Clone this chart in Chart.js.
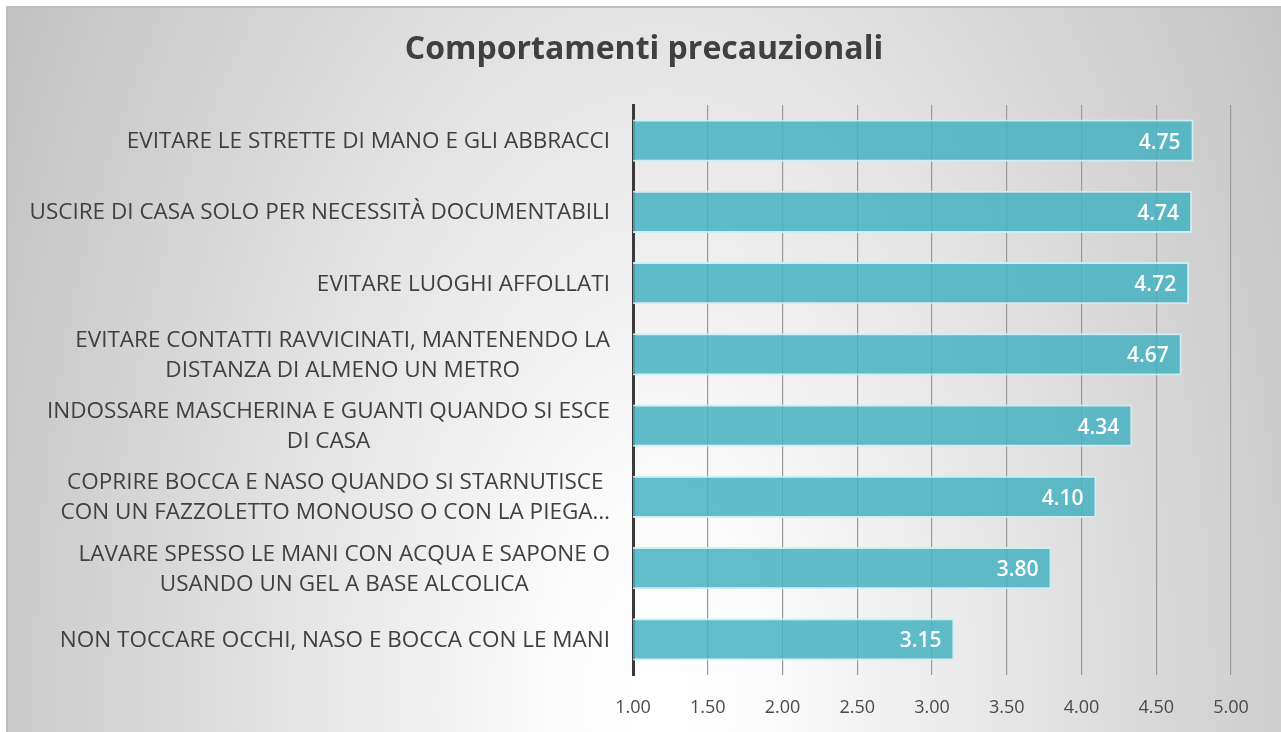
<!DOCTYPE html>
<html>
<head>
<meta charset="utf-8">
<script src="https://cdn.jsdelivr.net/npm/chart.js@4.4.1/dist/chart.umd.min.js"></script>
<style>
html,body{margin:0;padding:0;background:#fff;overflow:hidden;}
#wrap{position:absolute;left:0;top:0;width:1281px;height:732px;}
</style>
</head>
<body>
<div id="wrap"><canvas id="c"></canvas></div>
<script>
const chartTitle = 'Comportamenti precauzionali';
const categories = [
  ['EVITARE LE STRETTE DI MANO E GLI ABBRACCI'],
  ['USCIRE DI CASA SOLO PER NECESSITÀ DOCUMENTABILI'],
  ['EVITARE LUOGHI AFFOLLATI'],
  ['EVITARE CONTATTI RAVVICINATI, MANTENENDO LA', 'DISTANZA DI ALMENO UN METRO'],
  ['INDOSSARE MASCHERINA E GUANTI QUANDO SI ESCE', 'DI CASA'],
  ['COPRIRE BOCCA E NASO QUANDO SI STARNUTISCE', 'CON UN FAZZOLETTO MONOUSO O CON LA PIEGA…'],
  ['LAVARE SPESSO LE MANI CON ACQUA E SAPONE O', 'USANDO UN GEL A BASE ALCOLICA'],
  ['NON TOCCARE OCCHI, NASO E BOCCA CON LE MANI']
];
const values = [4.75, 4.74, 4.72, 4.67, 4.34, 4.10, 3.80, 3.15];
const axisMin = 1.0;
const axisMax = 5.0;
const axisStep = 0.5;

const FONT = "'Open Sans', 'DejaVu Sans', sans-serif";

const backgroundPlugin = {
  id: 'bg',
  beforeDraw(chart) {
    const ctx = chart.ctx;
    const W = chart.width, H = chart.height;
    ctx.save();
    ctx.fillStyle = '#ffffff';
    ctx.fillRect(0, 0, W, H);
    ctx.beginPath();
    ctx.rect(6, 6, W, H);
    ctx.clip();
    const cx = 660, cy = 700, rx = 740, ry = 1350;
    ctx.translate(cx, cy);
    ctx.scale(1, ry / rx);
    const g = ctx.createRadialGradient(0, 0, 0, 0, 0, rx);
    g.addColorStop(0, '#ffffff');
    g.addColorStop(0.15, '#fbfbfb');
    g.addColorStop(1, '#c3c3c3');
    ctx.fillStyle = g;
    ctx.fillRect(-cx - 10, -cy * rx / ry - 10, W + 40, (H + 40) * rx / ry + 40);
    ctx.restore();
    ctx.save();
    ctx.strokeStyle = '#bdbdbd';
    ctx.lineWidth = 2;
    ctx.beginPath();
    ctx.moveTo(7, H + 2);
    ctx.lineTo(7, 7);
    ctx.lineTo(W + 2, 7);
    ctx.stroke();
    ctx.restore();
  }
};

const labelsPlugin = {
  id: 'labelsDraw',
  afterDatasetsDraw(chart) {
    const ctx = chart.ctx;
    const yScale = chart.scales.y;
    ctx.save();
    ctx.font = '22.5px ' + FONT;
    ctx.fillStyle = '#404040';
    ctx.textBaseline = 'middle';
    ctx.textAlign = 'center';
    const rightX = yScale.right - 23;
    const lh = 30;
    categories.forEach((lines, i) => {
      const yc = yScale.getPixelForValue(i);
      const w = Math.max(...lines.map(l => ctx.measureText(l).width));
      const xc = rightX - w / 2;
      const y0 = yc - (lines.length - 1) * lh / 2;
      lines.forEach((l, j) => ctx.fillText(l, xc, y0 + j * lh + 1));
    });
    const meta = chart.getDatasetMeta(0);
    ctx.font = '600 21px ' + FONT;
    ctx.fillStyle = '#ffffff';
    ctx.textAlign = 'right';
    meta.data.forEach((bar, i) => {
      ctx.fillText(values[i].toFixed(2), bar.x - 13, bar.y + 2);
    });
    ctx.restore();
  }
};

const ctx = document.getElementById('c').getContext('2d');
new Chart(ctx, {
  type: 'bar',
  data: {
    labels: categories,
    datasets: [{
      data: values,
      backgroundColor: 'rgba(70,178,194,0.85)',
      borderColor: 'rgba(205,238,243,0.95)',
      borderWidth: 2,
      borderSkipped: 'start',
      barPercentage: 0.59,
      categoryPercentage: 1.0
    }]
  },
  options: {
    indexAxis: 'y',
    responsive: true,
    maintainAspectRatio: false,
    animation: false,
    layout: { padding: { left: 57, right: 50, top: 0, bottom: 0 } },
    plugins: {
      legend: { display: false },
      tooltip: { enabled: false },
      title: {
        display: true,
        text: chartTitle,
        color: '#404040',
        font: { family: FONT, size: 32, weight: 'bold' },
        padding: { top: 31, bottom: 35.6 }
      }
    },
    scales: {
      x: {
        type: 'linear',
        min: axisMin,
        max: axisMax,
        ticks: {
          stepSize: axisStep,
          color: '#4a4a4a',
          font: { family: FONT, size: 18 },
          padding: 22,
          callback: v => Number(v).toFixed(2)
        },
        grid: { color: '#999999', lineWidth: 1.2, drawTicks: false },
        border: { display: false },
        afterFit(scale) { scale.height = 57; }
      },
      y: {
        ticks: { display: false },
        grid: { display: false, drawTicks: false },
        border: { display: true, color: '#3a3a3a', width: 3 },
        afterFit(scale) { scale.width = 576; }
      }
    }
  },
  plugins: [backgroundPlugin, labelsPlugin]
});
</script>
</body>
</html>
